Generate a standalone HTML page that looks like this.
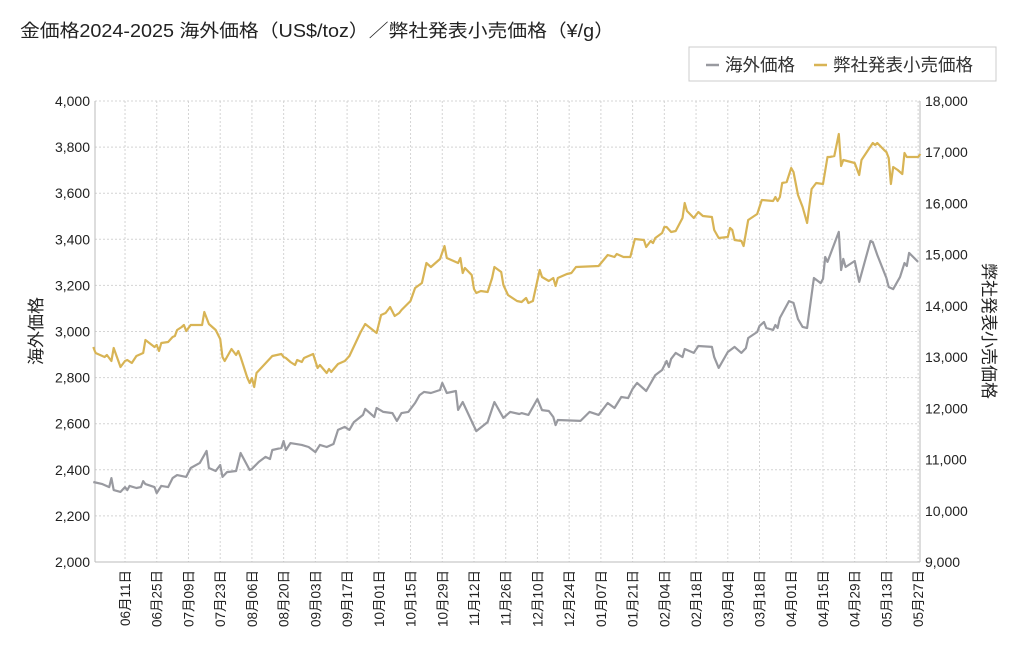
<!DOCTYPE html>
<html><head><meta charset="utf-8">
<style>
body{margin:0;background:#fff;font-family:"Liberation Sans","Noto Sans CJK JP",sans-serif;}
svg text{font-family:"Liberation Sans","Noto Sans CJK JP",sans-serif;}
</style></head>
<body>
<svg id="chart" width="1024" height="652" viewBox="0 0 1024 652" xmlns="http://www.w3.org/2000/svg">
<rect width="1024" height="652" fill="#fff"/>
<text x="20" y="37" font-size="18" fill="#222" textLength="594" lengthAdjust="spacingAndGlyphs">金価格2024-2025 海外価格（US$/toz）／弊社発表小売価格（¥/g）</text>
<g>
<rect x="689" y="47" width="307" height="34" fill="#fff" stroke="#ccc"/>
<line x1="706" y1="65" x2="719" y2="65" stroke="#999aa0" stroke-width="2.5"/>
<text x="725" y="71" font-size="17.5" fill="#333">海外価格</text>
<line x1="814" y1="65" x2="827" y2="65" stroke="#d8b455" stroke-width="2.5"/>
<text x="833" y="71" font-size="17.5" fill="#333">弊社発表小売価格</text>
</g>
<g id="grid"></g>
<g id="axes"></g>
<g id="series"></g>
<text transform="translate(42,331) rotate(-90)" text-anchor="middle" font-size="17" fill="#222">海外価格</text>
<text transform="translate(983,331) rotate(90)" text-anchor="middle" font-size="17" fill="#222">弊社発表小売価格</text>
</svg>
<script>
// data (day offset from 2024-05-28)
const overseasDays=[0,4,7,8,9,12,14,15,16,19,21,22,23,27,28,30,33,35,37,41,43,47,50,51,54,56,57,59,63,65,69,70,73,76,78,79,83,84,85,87,92,95,98,100,103,106,108,111,113,115,119,120,124,125,128,132,134,136,139,142,144,146,149,153,154,156,160,161,163,169,174,177,181,184,188,189,192,196,198,201,203,204,205,215,219,223,227,230,233,236,238,240,244,248,251,253,254,255,257,260,261,265,267,273,274,276,280,283,286,288,289,293,294,296,297,300,301,302,303,307,309,311,313,315,318,321,322,323,324,329,330,331,332,336,338,343,344,346,350,351,353,356,358,359,360,364];
const overseasValues=[2347,2338,2325,2364,2312,2304,2325,2312,2330,2321,2325,2351,2338,2325,2299,2330,2325,2364,2377,2369,2408,2430,2482,2408,2395,2421,2369,2390,2395,2473,2399,2404,2434,2456,2447,2486,2495,2525,2486,2516,2508,2499,2477,2508,2499,2512,2573,2586,2573,2607,2638,2664,2629,2668,2651,2646,2612,2646,2651,2690,2724,2738,2733,2746,2777,2733,2742,2660,2694,2568,2607,2694,2625,2651,2642,2646,2638,2707,2659,2655,2629,2594,2616,2612,2651,2638,2690,2668,2716,2711,2751,2777,2742,2811,2833,2872,2846,2881,2907,2889,2924,2907,2937,2933,2889,2842,2911,2933,2907,2928,2972,2998,3024,3041,3015,3007,3028,3015,3059,3132,3124,3054,3020,3015,3232,3210,3228,3323,3302,3432,3267,3315,3280,3306,3215,3393,3388,3332,3232,3193,3184,3236,3297,3284,3341,3302];
const retailDays=[0,1,5,6,8,9,12,14,15,17,19,22,23,27,28,29,30,33,35,36,37,39,40,41,43,48,49,51,54,56,57,58,61,63,64,65,68,69,70,71,72,79,83,84,85,87,89,90,92,93,97,99,100,103,104,105,108,111,113,118,120,125,127,129,131,133,135,136,140,142,145,147,149,153,155,156,161,162,163,164,167,168,169,171,174,176,177,180,181,183,187,189,191,192,194,197,198,201,203,204,205,209,211,213,223,227,230,231,234,237,239,243,244,246,247,248,251,252,253,255,257,260,261,262,265,267,269,273,274,276,280,281,282,283,286,287,289,293,295,300,301,302,303,304,306,308,309,311,313,315,317,319,322,324,325,327,329,330,331,336,338,339,344,345,346,349,350,351,352,353,355,357,358,359,364,365];
const retailValues=[13197,13080,13002,13041,12924,13178,12807,12924,12944,12885,13022,13080,13334,13197,13236,13119,13275,13295,13393,13412,13529,13588,13627,13510,13627,13627,13881,13646,13529,13354,13002,12924,13158,13041,13119,13002,12592,12495,12592,12416,12690,13022,13061,13002,12983,12905,12846,12944,12905,12983,13061,12787,12846,12690,12768,12709,12865,12924,13022,13490,13646,13471,13822,13861,13978,13803,13861,13920,14095,14349,14447,14837,14759,14915,15169,14935,14837,14935,14642,14740,14603,14330,14252,14291,14272,14544,14759,14662,14408,14213,14095,14075,14154,14056,14095,14701,14564,14486,14544,14388,14544,14622,14642,14759,14779,14993,14954,15013,14954,14954,15306,15286,15150,15267,15228,15325,15423,15540,15540,15442,15462,15716,16009,15852,15716,15833,15755,15735,15482,15325,15345,15521,15482,15286,15267,15169,15677,15794,16067,16048,16126,16048,16126,16399,16419,16692,16614,16165,15931,15618,16282,16399,16380,16907,16907,16926,17356,16731,16848,16790,16555,16848,17180,17141,17180,17043,17004,16887,16380,16711,16653,16575,16985,16907,16907,16965];
const leftTicks=[2000,2200,2400,2600,2800,3000,3200,3400,3600,3800,4000];
const rightTicks=[9000,10000,11000,12000,13000,14000,15000,16000,17000,18000];
const dateTickDays=[14,28,42,56,70,84,98,112,126,140,154,168,182,196,210,224,238,252,266,280,294,308,322,336,350,364];
const dateTickLabels=["06月11日","06月25日","07月09日","07月23日","08月06日","08月20日","09月03日","09月17日","10月01日","10月15日","10月29日","11月12日","11月26日","12月10日","12月24日","01月07日","01月21日","02月04日","02月18日","03月04日","03月18日","04月01日","04月15日","04月29日","05月13日","05月27日"];

const NS="http://www.w3.org/2000/svg";
const L=95,R=920,T=101,B=562;
const xScale=d=>93.3+d*2.266;
const yLeft=v=>B-(v-2000)/2000*(B-T);
const yRight=v=>B-(v-9000)/9000*(B-T);
function mk(tag,attrs,parent){const e=document.createElementNS(NS,tag);for(const k in attrs)e.setAttribute(k,attrs[k]);parent.appendChild(e);return e;}
const grid=document.getElementById('grid'),axes=document.getElementById('axes'),series=document.getElementById('series');

leftTicks.forEach(v=>{const y=yLeft(v);
  const g=mk('line',{x1:L,x2:R,y1:y,y2:y,stroke:'#d4d4d4','stroke-dasharray':'2,2'},grid);
  
  
  const t=mk('text',{x:L-5,y:y+5,'text-anchor':'end','font-size':'14',fill:'#222'},axes);
  
  
  t.textContent=v.toLocaleString('en-US');
});
rightTicks.forEach(v=>{const y=yRight(v);
  const t=mk('text',{x:R+5,y:y+5,'font-size':'14',fill:'#222'},axes);
  
  
  t.textContent=v.toLocaleString('en-US');
});
dateTickDays.forEach((d,i)=>{const x=xScale(d);
  const g=mk('line',{x1:x,x2:x,y1:T,y2:B,stroke:'#d4d4d4','stroke-dasharray':'2,2'},grid);
  
  
  const t=mk('text',{transform:`translate(${x+5},570) rotate(-90)`,'text-anchor':'end','font-size':'13.5',fill:'#222'},axes);
  
  
  t.textContent=dateTickLabels[i];
});
const a1=mk('line',{x1:L,x2:L,y1:T,y2:B,stroke:'#bbb'},axes);


const a2=mk('line',{x1:R,x2:R,y1:T,y2:B,stroke:'#bbb'},axes);


const a3=mk('line',{x1:L,x2:R,y1:B,y2:B,stroke:'#bbb'},axes);



const p1=mk('polyline',{points:overseasDays.map((d,i)=>xScale(d).toFixed(1)+','+yLeft(overseasValues[i]).toFixed(1)).join(' '),fill:'none',stroke:'#999aa0','stroke-width':'2.2','stroke-linejoin':'round'},series);


const p2=mk('polyline',{points:retailDays.map((d,i)=>xScale(d).toFixed(1)+','+yRight(retailValues[i]).toFixed(1)).join(' '),fill:'none',stroke:'#d8b455','stroke-width':'2.2','stroke-linejoin':'round'},series);


</script>
</body></html>
